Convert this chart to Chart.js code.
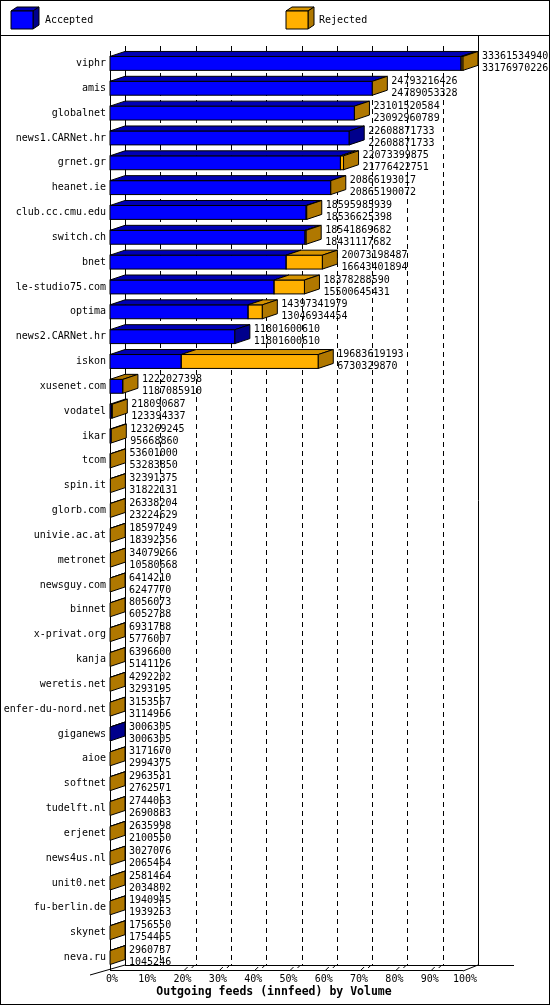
<!DOCTYPE html>
<html><head><meta charset="utf-8">
<script src="https://cdn.jsdelivr.net/npm/chart.js@4/dist/chart.umd.min.js"></script>
<style>html,body{margin:0;padding:0;background:#fff}canvas{display:block}</style>
</head><body>
<canvas id="c" width="550" height="1005"></canvas>
<script>
const categories = ["viphr","amis","globalnet","news1.CARNet.hr","grnet.gr","heanet.ie","club.cc.cmu.edu","switch.ch","bnet","le-studio75.com","optima","news2.CARNet.hr","iskon","xusenet.com","vodatel","ikar","tcom","spin.it","glorb.com","univie.ac.at","metronet","newsguy.com","binnet","x-privat.org","kanja","weretis.net","enfer-du-nord.net","giganews","aioe","softnet","tudelft.nl","erjenet","news4us.nl","unit0.net","fu-berlin.de","skynet","neva.ru"];
const offered = [33361534940,24793216426,23101520584,22608871733,22073399875,20866193017,18595985939,18541869682,20073198487,18378288590,14397341979,11801600610,19683619193,1222027398,218090687,123269245,53601000,32391375,26338204,18597249,34079266,6414210,8056073,6931788,6396600,4292202,3153567,3006305,3171670,2963531,2744063,2635998,3027076,2581464,1940945,1756550,2960737];
const accepted = [33176970226,24789053328,23092960789,22608871733,21776422751,20865190072,18536625398,18431117682,16643401894,15500645431,13046934454,11801600610,6730329870,1187085910,123394337,95668860,53283850,31822131,23224629,18392356,10580668,6247770,6052788,5776007,5141126,3293195,3114956,3006305,2994375,2762571,2690883,2100550,2065464,2034802,1939253,1754465,1045246];
const tickLabels = ["0%","10%","20%","30%","40%","50%","60%","70%","80%","90%","100%"];
const maxV = Math.max(...offered);
const accPct = accepted.map(v => v / maxV * 100);
const rejPct = offered.map((v,i) => (v - accepted[i]) / maxV * 100);

const DX = 15, DY = -5;
const FONT = '10px "DejaVu Sans Mono", monospace';
const COL = {
  acc: {front:'#0000ff', top:'#0000b4', side:'#00008c'},
  rej: {front:'#ffb000', top:'#d69400', side:'#b07800'}
};
function poly(ctx, pts, fill){
  ctx.beginPath(); ctx.moveTo(pts[0][0],pts[0][1]);
  for (let i=1;i<pts.length;i++) ctx.lineTo(pts[i][0],pts[i][1]);
  ctx.closePath(); ctx.fillStyle=fill; ctx.fill(); ctx.strokeStyle='#000'; ctx.lineWidth=1; ctx.stroke();
}
const deco = {
  id:'deco',
  beforeDatasetsDraw(chart){
    const ctx=chart.ctx, xs=chart.scales.x, a=chart.chartArea;
    ctx.save();
    ctx.strokeStyle='#000'; ctx.lineWidth=1;
    ctx.strokeRect(0.5,0.5,549,1004);
    ctx.beginPath(); ctx.moveTo(0,35.5); ctx.lineTo(550,35.5); ctx.stroke();
    poly(ctx,[[11,11],[17,7],[39,7],[33,11]],COL.acc.top);
    poly(ctx,[[33,11],[39,7],[39,25],[33,29]],COL.acc.side);
    poly(ctx,[[11,11],[33,11],[33,29],[11,29]],COL.acc.front);
    poly(ctx,[[286,11],[292,7],[314,7],[308,11]],COL.rej.top);
    poly(ctx,[[308,11],[314,7],[314,25],[308,29]],COL.rej.side);
    poly(ctx,[[286,11],[308,11],[308,29],[286,29]],COL.rej.front);
    ctx.fillStyle='#000'; ctx.font=FONT; ctx.textBaseline='middle';
    ctx.fillText('Accepted',45,20); ctx.fillText('Rejected',319,20);
    const top=a.top-5, floorY=a.bottom-5;
    ctx.beginPath();
    ctx.moveTo(xs.getPixelForValue(0)+DX+0.5, top); ctx.lineTo(xs.getPixelForValue(0)+DX+0.5, floorY);
    ctx.moveTo(xs.getPixelForValue(100)+DX+0.5, 36); ctx.lineTo(xs.getPixelForValue(100)+DX+0.5, floorY);
    ctx.moveTo(xs.getPixelForValue(0)+0.5, top+5); ctx.lineTo(xs.getPixelForValue(0)+0.5, a.bottom);
    ctx.stroke();
    ctx.setLineDash([5,4]);
    ctx.beginPath();
    for (let v=10; v<100; v+=10){
      const x=Math.round(xs.getPixelForValue(v)+DX)+0.5;
      ctx.moveTo(x,top); ctx.lineTo(x,floorY);
    }
    ctx.stroke(); ctx.setLineDash([]);
    const x0=xs.getPixelForValue(0), x1=xs.getPixelForValue(100);
    ctx.beginPath();
    ctx.moveTo(x0+DX, floorY+0.5); ctx.lineTo(x1+DX+36, floorY+0.5);
    ctx.moveTo(x0-20, a.bottom+5); ctx.lineTo(x0+DX, floorY);
    ctx.moveTo(x1, a.bottom+1); ctx.lineTo(x1+DX, floorY);
    ctx.moveTo(x0, a.bottom+0.5); ctx.lineTo(x1, a.bottom+0.5);
    for (let v=20; v<100; v+=10){
      const x=xs.getPixelForValue(v);
      ctx.moveTo(x+4,a.bottom); ctx.lineTo(x+7,a.bottom-3);
      ctx.moveTo(x+11,a.bottom-2); ctx.lineTo(x+14,a.bottom-5);
    }
    ctx.stroke();
    ctx.textAlign='center'; ctx.textBaseline='top';
    xs.ticks.forEach((t,i)=>{ ctx.fillText(tickLabels[i], xs.getPixelForValue(t.value)+2, a.bottom+4); });
    ctx.font='bold 11.5px "DejaVu Sans Mono", monospace';
    ctx.fillText('Outgoing feeds (innfeed) by Volume', 274, a.bottom+16);
    ctx.font=FONT; ctx.textAlign='right'; ctx.textBaseline='middle';
    const ys=chart.scales.y;
    categories.forEach((c,i)=>ctx.fillText(c, x0-4, ys.getPixelForValue(i)));
    ctx.restore();
  },
  afterDatasetsDraw(chart){
    const ctx=chart.ctx, m0=chart.getDatasetMeta(0).data, m1=chart.getDatasetMeta(1).data;
    ctx.save();
    categories.forEach((c,i)=>{
      const b0=m0[i], b1=m1[i];
      const h=b0.height, yT=b0.y-h/2, yB=b0.y+h/2;
      const xs0=b0.base, xa=b0.x, xr=b1.x;
      const hasRej = offered[i] > accepted[i];
      ctx.strokeStyle='#000'; ctx.lineWidth=1;
      if (xa-xs0>0.5) ctx.strokeRect(xs0,yT,xa-xs0,h);
      if (xr-xa>0.5) ctx.strokeRect(xa,yT,xr-xa,h);
      const wide = xr - xs0 > 20;
      if (wide) {
        if (xa-xs0>0.5) poly(ctx,[[xs0,yT],[xs0+DX,yT+DY],[xa+DX,yT+DY],[xa,yT]],COL.acc.top);
        if (xr-xa>0.5) poly(ctx,[[xa,yT],[xa+DX,yT+DY],[xr+DX,yT+DY],[xr,yT]],COL.rej.top);
      } else {
        const tc = hasRej ? COL.rej.side : COL.acc.top;
        poly(ctx,[[xs0,yT],[xs0+DX,yT+DY],[xr+DX,yT+DY],[xr,yT]],tc);
      }
      const sc = hasRej ? COL.rej.side : COL.acc.side;
      poly(ctx,[[xr,yT],[xr+DX,yT+DY],[xr+DX,yB+DY],[xr,yB]],sc);
      ctx.fillStyle='#000'; ctx.font=FONT; ctx.textAlign='left'; ctx.textBaseline='middle';
      ctx.fillText(String(offered[i]), xr+DX+4, b0.y-7);
      ctx.fillText(String(accepted[i]), xr+DX+4, b0.y+5);
    });
    ctx.restore();
  }
};
new Chart(document.getElementById('c'),{
  type:'bar',
  data:{labels:categories,datasets:[
    {label:'Accepted',data:accPct,backgroundColor:COL.acc.front,barPercentage:0.56,categoryPercentage:1,borderWidth:0},
    {label:'Rejected',data:rejPct,backgroundColor:COL.rej.front,barPercentage:0.56,categoryPercentage:1,borderWidth:0}
  ]},
  options:{
    indexAxis:'y',responsive:false,animation:false,
    layout:{padding:{left:110,right:87,top:51,bottom:35}},
    plugins:{legend:{display:false},tooltip:{enabled:false}},
    scales:{
      x:{display:false,stacked:true,min:0,max:100,ticks:{stepSize:10}},
      y:{display:false,stacked:true}
    }
  },
  plugins:[deco]
});
</script>
</body></html>
